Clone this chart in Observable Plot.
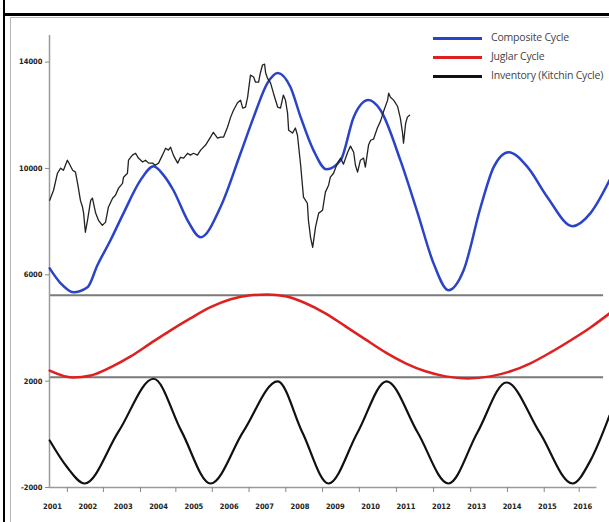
<!DOCTYPE html>
<html>
<head>
<meta charset="utf-8">
<script src="https://cdn.jsdelivr.net/npm/d3@7"></script>
<script src="https://cdn.jsdelivr.net/npm/@observablehq/plot@0.6"></script>
<style>
  html, body { margin: 0; padding: 0; background: #fff; }
  #wrap { position: relative; width: 609px; height: 522px; overflow: hidden; }
  .ln { position: absolute; }
  #chart { position: absolute; left: 0; top: 0; }
  #legend { position: absolute; left: 433px; top: 28px; font-family: "Open Sans", sans-serif; font-size: 10.5px; letter-spacing: -0.2px; color: #444; }
  .item { position: relative; height: 19px; }
  .sw { position: absolute; left: 0; top: 9px; width: 49px; height: 3px; }
  .lb { position: absolute; left: 58px; top: 2px; white-space: nowrap; }
</style>
</head>
<body>
<div id="wrap">
  <div class="ln" style="left:3px;top:0;width:2px;height:522px;background:#000"></div>
  <div class="ln" style="left:3px;top:13px;width:606px;height:3px;background:#000"></div>
  <div class="ln" style="left:10px;top:17px;width:1px;height:505px;background:#b5b5b5"></div>
  <div class="ln" style="left:10px;top:17px;width:599px;height:1px;background:#b5b5b5"></div>
  <div id="chart"></div>
  <div id="legend"></div>
</div>
<script>
// ---- data ----
const yearLabels = [2001,2002,2003,2004,2005,2006,2007,2008,2009,2010,2011,2012,2013,2014,2015,2016];
const xTickYears = [2001.92,2002.94,2003.99,2004.99,2006.02,2007.06,2008.10,2009.14,2010.18,2011.23,2012.28,2013.33,2014.37,2015.41,2016.40];
const yTicks = [14000, 10000, 6000, 2000, -2000];
const separators = [5230, 2150];

const seriesNames = ["Composite Cycle", "Juglar Cycle", "Inventory (Kitchin Cycle)"];
const seriesColors = ["#2b43c9", "#e01f1f", "#111111"];

const compositeDates = [2001.42,2001.73,2002.09,2002.49,2002.77,2003.14,2003.51,2003.99,2004.36,2004.64,2004.92,2005.32,2005.69,2006.25,2006.82,2007.19,2007.58,2007.87,2008.23,2008.52,2008.88,2009.25,2009.65,2010.02,2010.44,2010.78,2011.34,2011.83,2012.28,2012.70,2013.13,2013.61,2013.98,2014.40,2014.94,2015.50,2016.21,2016.72,2017.26];
const compositeValues = [6240,5680,5340,5530,6360,7300,8320,9560,10080,9750,9180,8050,7410,8540,10570,11930,13210,13590,13060,11930,10690,9970,10310,11930,12570,12190,10310,8320,6430,5420,6170,8540,10050,10610,10050,8920,7830,8320,9560];

const juglarDates = [2001.42,2002.07,2002.58,2003.14,2003.71,2004.27,2004.84,2005.40,2005.97,2006.54,2007.10,2007.58,2008.09,2008.66,2009.22,2009.79,2010.35,2010.92,2011.49,2012.05,2012.62,2013.24,2013.89,2014.46,2015.02,2015.59,2016.15,2016.72,2017.26];
const juglarValues = [2400,2140,2215,2520,2930,3420,3910,4360,4780,5080,5230,5260,5190,4930,4550,4060,3570,3080,2670,2370,2180,2100,2180,2370,2670,3080,3530,4020,4550];

const kitchinDates = [2001.42,2001.90,2002.41,2003.37,2004.36,2005.15,2005.97,2006.90,2007.87,2008.57,2009.31,2010.13,2010.95,2011.83,2012.70,2013.52,2014.34,2015.28,2016.21,2016.72,2017.26];
const kitchinValues = [-230,-1210,-1850,110,2090,110,-1850,110,1990,70,-1850,70,1990,70,-1850,70,1950,70,-1850,-980,710];

const inventoryDates = [2001.42,2001.53,2001.64,2001.73,2001.81,2001.92,2001.95,2002.07,2002.15,2002.21,2002.29,2002.35,2002.38,2002.43,2002.49,2002.58,2002.63,2002.72,2002.80,2002.91,2003.00,2003.08,2003.20,2003.28,2003.37,2003.48,2003.51,2003.62,2003.65,2003.76,2003.85,2003.93,2004.05,2004.13,2004.22,2004.33,2004.41,2004.50,2004.61,2004.70,2004.78,2004.84,2004.92,2005.04,2005.12,2005.21,2005.32,2005.40,2005.49,2005.60,2005.69,2005.83,2005.97,2006.05,2006.17,2006.25,2006.34,2006.45,2006.54,2006.62,2006.73,2006.82,2006.88,2006.96,2007.02,2007.10,2007.19,2007.24,2007.33,2007.38,2007.44,2007.50,2007.53,2007.58,2007.67,2007.75,2007.87,2007.95,2008.03,2008.09,2008.15,2008.18,2008.29,2008.37,2008.43,2008.52,2008.57,2008.60,2008.71,2008.74,2008.80,2008.86,2008.94,2009.03,2009.14,2009.17,2009.22,2009.31,2009.36,2009.45,2009.56,2009.65,2009.73,2009.85,2009.93,2010.02,2010.07,2010.13,2010.21,2010.30,2010.35,2010.44,2010.50,2010.58,2010.69,2010.78,2010.86,2010.98,2011.01,2011.06,2011.15,2011.26,2011.34,2011.40,2011.43,2011.49,2011.54,2011.60];
const inventoryValues = [8800,9180,9820,10010,9930,10310,10240,9930,9860,9440,8800,8540,8320,7600,8050,8800,8880,8320,8050,7860,7980,8540,8880,8990,9260,9440,9670,9820,10310,10500,10570,10390,10240,10310,10200,10200,10120,10200,10500,10760,10690,10800,10500,10200,10420,10390,10570,10500,10570,10500,10690,10880,11180,11360,11140,11180,11180,11550,11930,12190,12460,12570,12270,12310,12680,13510,13440,13250,13250,13590,13890,13920,13590,13400,13210,12830,12310,12270,12760,12570,12080,11440,11330,11520,11250,10120,9370,8920,8690,8050,7410,7030,7790,8320,8430,8690,9110,9370,9670,9820,10200,10390,10160,10610,10840,10610,10120,9860,10310,10390,10050,10880,11060,11100,11520,11780,12120,12570,12830,12680,12570,12340,11890,11360,10950,11700,11930,12000];

// ---- tables ----
const toRows = (dates, values) => dates.map((d, i) => ({date: d, value: values[i]}));
const composite = toRows(compositeDates, compositeValues);
const juglar = toRows(juglarDates, juglarValues);
const kitchin = toRows(kitchinDates, kitchinValues);
const inventory = toRows(inventoryDates, inventoryValues);

const xStart = 2001.415, xEnd = 2017.257, axisEnd = 2016.9, sepEnd = 2017.09;

const chart = Plot.plot({
  width: 609,
  height: 522,
  marginLeft: 49,
  marginRight: 0,
  marginTop: 35,
  marginBottom: 35,
  style: {fontFamily: "'DejaVu Sans Condensed', sans-serif", fontWeight: "bold", color: "#222", background: "transparent"},
  x: {domain: [xStart, xEnd], axis: null},
  y: {domain: [-2000, 15000], axis: null},
  marks: [
    Plot.ruleY(separators, {x1: xStart, x2: sepEnd, stroke: "#7a7a7a", strokeWidth: 2}),
    Plot.ruleY([-2000], {x1: xStart, x2: axisEnd, stroke: "#9a9a9a", strokeWidth: 1.5}),
    Plot.ruleX([xStart], {y1: -2000, y2: 15000, stroke: "#9a9a9a", strokeWidth: 1.5}),
    Plot.axisY(yTicks, {anchor: "left", label: null, tickSize: 4, tickPadding: 3, stroke: "#888", fontSize: 7.5, tickFormat: d => String(d)}),
    Plot.axisX(xTickYears, {anchor: "bottom", label: null, tickSize: 5, stroke: "#888", tickFormat: () => ""}),
    Plot.text(yearLabels, {x: d => d + 0.5, y: -2000, dy: 19, text: d => String(d), fontSize: 7.5, fill: "#222"}),
    Plot.line(juglar, {x: "date", y: "value", stroke: seriesColors[1], strokeWidth: 2.5, curve: "monotone-x"}),
    Plot.line(kitchin, {x: "date", y: "value", stroke: seriesColors[2], strokeWidth: 2.2, curve: "monotone-x"}),
    Plot.line(composite, {x: "date", y: "value", stroke: seriesColors[0], strokeWidth: 2.5, curve: "monotone-x"}),
    Plot.line(inventory, {x: "date", y: "value", stroke: "#222", strokeWidth: 1.3, curve: "linear"})
  ]
});
document.getElementById("chart").appendChild(chart);

const legend = document.getElementById("legend");
seriesNames.forEach((name, i) => {
  const item = document.createElement("div");
  item.className = "item";
  item.innerHTML = `<div class="sw" style="background:${seriesColors[i]}"></div><div class="lb">${name}</div>`;
  legend.appendChild(item);
});
</script>
</body>
</html>
